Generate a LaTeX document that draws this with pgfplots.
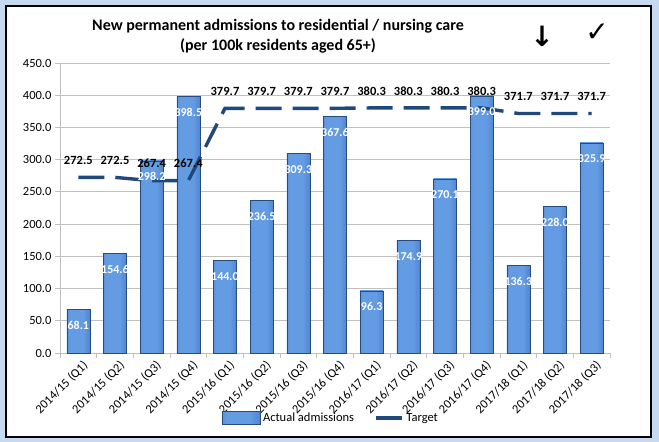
\documentclass[border=0pt]{standalone}
\usepackage{pgfplots}
\pgfplotsset{compat=1.18}
\usetikzlibrary{calc}
\usepackage{fontspec}
\setmainfont{Carlito}
\newfontfamily\djv{DejaVu Sans}
\definecolor{bgblue}{RGB}{198,217,241}
\definecolor{barmid}{RGB}{100,156,228}
\definecolor{barhalf}{RGB}{66,116,192}
\definecolor{baredge}{RGB}{38,74,135}
\definecolor{bardraw}{RGB}{40,75,130}
\definecolor{tgt}{RGB}{31,73,125}
\definecolor{gridc}{RGB}{192,192,192}
\pgfdeclarehorizontalshading{barshade}{100bp}{color(0bp)=(baredge); color(12bp)=(barhalf); color(30bp)=(barmid); color(60bp)=(barmid); color(86bp)=(barhalf); color(100bp)=(baredge)}
\pgfplotsset{/pgf/number format/assume math mode=true}
\pgfplotsset{
  barst/.style={ybar, bar width=23pt, bar shift=0pt, draw=bardraw, line width=0.6pt, shading=barshade,
    nodes near coords={\pgfmathprintnumber[fixed,zerofill,precision=1]{\pgfplotspointmeta}},
    every node near coord/.append style={anchor=center, yshift=-16pt, text=white, font=\bfseries\fontsize{12}{14}\selectfont}},
}
\pgfdeclarelayer{bgl}
\pgfsetlayers{bgl,main}
\begin{document}
\begin{tikzpicture}[x=1pt,y=1pt]
\begin{axis}[
  name=ax,
  scale only axis, width=550pt, height=290pt,
  xmin=-0.5, xmax=14.5, ymin=0, ymax=450,
  xtick={0,...,14},
  xticklabels={2014/15 (Q1),2014/15 (Q2),2014/15 (Q3),2014/15 (Q4),2015/16 (Q1),2015/16 (Q2),2015/16 (Q3),2015/16 (Q4),2016/17 (Q1),2016/17 (Q2),2016/17 (Q3),2016/17 (Q4),2017/18 (Q1),2017/18 (Q2),2017/18 (Q3)},
  x tick label style={rotate=45, anchor=north east, xshift=5pt, font=\fontsize{12.5}{14}\selectfont},
  major x tick style={draw=none},
  minor xtick={-0.5,0.5,...,14.5},
  ytick={0,50,...,450},
  y tick label style={/pgf/number format/fixed, /pgf/number format/zerofill, /pgf/number format/precision=1, /tikz/font=\fontsize{12.5}{14}\selectfont},
  tick align=outside, major tick length=5pt, minor tick length=5pt,
  tick style={gridc, line width=0.8pt},
  ymajorgrids, grid style={gridc, line width=0.8pt},
  axis x line*=bottom, axis y line*=left,
  axis line style={gridc, line width=0.8pt, -},
  clip=false,
  legend style={at={(0.493,-0.224)}, anchor=center, draw=none, fill=none,
    font=\fontsize{12.5}{14}\selectfont,
    /tikz/every even column/.append style={column sep=18pt}},
  legend columns=2,
]
\addplot[barst, legend image code/.code={\fill[shading=barshade, draw=bardraw] (0pt,-6.5pt) rectangle (38pt,6.5pt);}] coordinates {(0,68.1)};
\addlegendentry{Actual admissions}
\addplot[barst, forget plot] coordinates {(1,154.6)};
\addplot[barst, forget plot] coordinates {(2,298.2)};
\addplot[barst, forget plot] coordinates {(3,398.5)};
\addplot[barst, forget plot] coordinates {(4,144.0)};
\addplot[barst, forget plot] coordinates {(5,236.5)};
\addplot[barst, forget plot] coordinates {(6,309.3)};
\addplot[barst, forget plot] coordinates {(7,367.6)};
\addplot[barst, forget plot] coordinates {(8,96.3)};
\addplot[barst, forget plot] coordinates {(9,174.9)};
\addplot[barst, forget plot] coordinates {(10,270.1)};
\addplot[barst, forget plot] coordinates {(11,399.0)};
\addplot[barst, forget plot] coordinates {(12,136.3)};
\addplot[barst, forget plot] coordinates {(13,228.0)};
\addplot[barst, forget plot] coordinates {(14,325.9)};
\addplot[tgt, line width=3.4pt, dash pattern=on 26pt off 11pt, mark=none,
  nodes near coords={\pgfmathprintnumber[fixed,zerofill,precision=1]{\pgfplotspointmeta}},
  every node near coord/.append style={anchor=center, yshift=17pt, text=black, font=\bfseries\fontsize{12.5}{14}\selectfont},
  legend image code/.code={\draw[tgt, line width=3.4pt] (0pt,0pt) -- (27pt,0pt);},
] coordinates {
(0,272.5) (1,272.5) (2,267.4) (3,267.4) (4,379.7) (5,379.7) (6,379.7) (7,379.7)
(8,380.3) (9,380.3) (10,380.3) (11,380.3) (12,371.7) (13,371.7) (14,371.7)
};
\addlegendentry{Target}
\coordinate (O) at (rel axis cs:0,0);
\end{axis}
\begin{pgfonlayer}{bgl}
\fill[bgblue] ($(O)+(-60,-89)$) rectangle ($(O)+(599,353)$);
\fill[white] ($(O)+(-54,-84)$) rectangle ($(O)+(591,347)$);
\draw[black,line width=2pt] ($(O)+(-54,-84)$) rectangle ($(O)+(591,347)$);
\end{pgfonlayer}
\node[font=\fontsize{16}{20}\selectfont\bfseries, align=center] at ($(O)+(218,317)$) {New permanent admissions to residential / nursing care\\(per 100k residents aged 65+)};
\node[font=\djv\bfseries\fontsize{28}{28}\selectfont] at ($(O)+(482,317)$) {↓};
\node[font=\djv\fontsize{28}{28}\selectfont] at ($(O)+(537,320)$) {✓};
\end{tikzpicture}
\end{document}
